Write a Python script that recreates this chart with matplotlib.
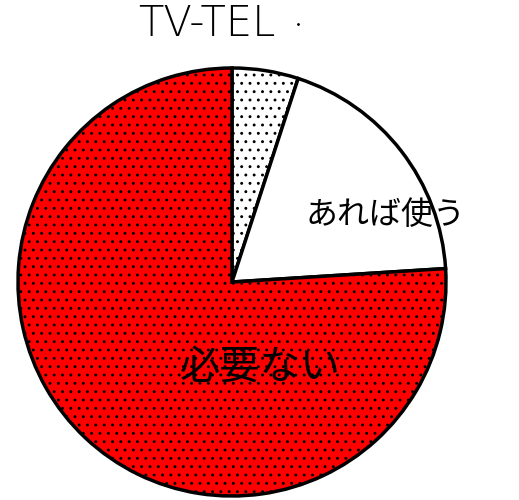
import matplotlib
matplotlib.use('Agg')
import matplotlib.pyplot as plt

plt.rcParams['font.family'] = ['Noto Sans CJK JP', 'DejaVu Sans']
plt.rcParams['hatch.linewidth'] = 0.9

# data (share of answers, %)
categories = ['その他', 'あれば使う', '必要ない']
shares = [5, 19, 76]
colors = ['white', 'white', '#ff0000']
hatches = ['..', '', '..']
title = 'TV-TEL'

fig = plt.figure(figsize=(5.19, 5.0), dpi=100)
ax = fig.add_axes([0, 0, 1, 1])

wedges, _ = ax.pie(shares, startangle=90, counterclock=False,
                   colors=colors, center=(232, 218), radius=214,
                   wedgeprops=dict(edgecolor='black', linewidth=2.5),
                   frame=True)
for w, h in zip(wedges, hatches):
    w.set_hatch(h)
ax.set_xlim(0, 519)
ax.set_ylim(0, 500)
ax.set_aspect('equal')
ax.axis('off')

ax.text(207, 476, title, ha='center', va='center', fontsize=30,
        family='DejaVu Sans', fontweight='light')
ax.plot([298], [476], marker='.', color='black', markersize=2)
ax.text(386, 285, categories[1], ha='center', va='center', fontsize=23)
ax.text(260, 133, categories[2], ha='center', va='center', fontsize=29)

fig.savefig('out.png', dpi=100)
